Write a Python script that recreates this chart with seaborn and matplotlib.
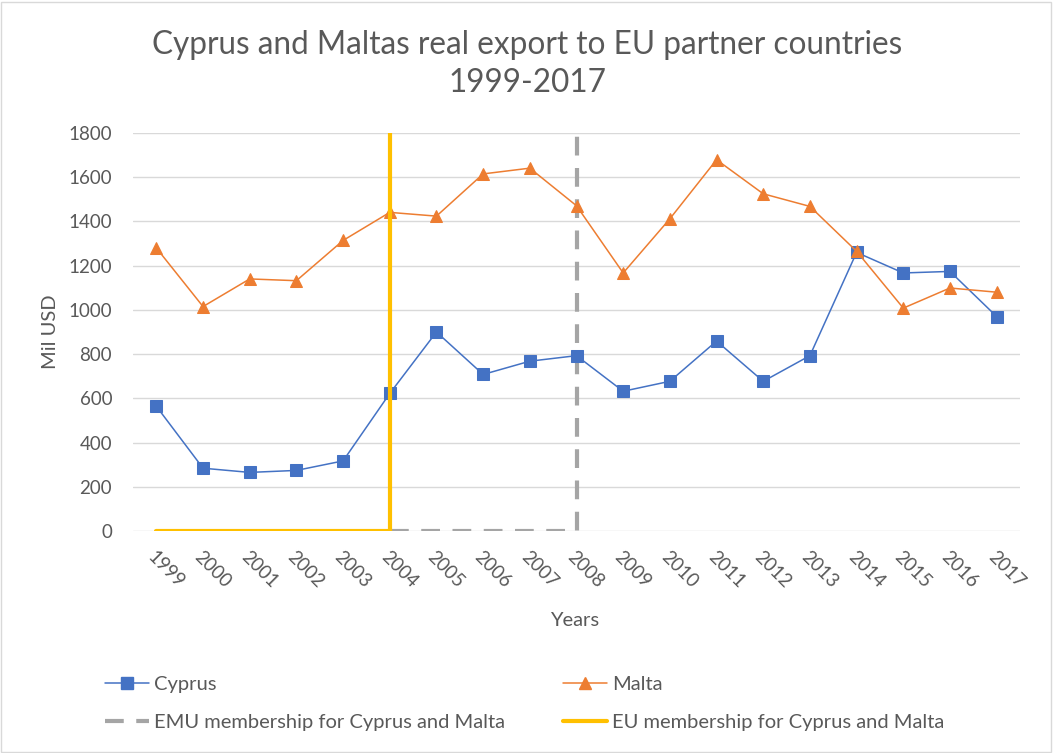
import matplotlib
matplotlib.use("Agg")
import matplotlib.pyplot as plt
import seaborn as sns
import pandas as pd
from matplotlib.lines import Line2D
from matplotlib.patches import Rectangle

years = list(range(1999, 2018))
cyprus = [564, 284, 265, 274, 317, 622, 900, 708, 768, 793, 632, 677, 859, 677, 793, 1260, 1167, 1174, 970]
malta = [1280, 1015, 1140, 1132, 1314, 1441, 1424, 1615, 1641, 1471, 1167, 1412, 1679, 1525, 1468, 1265, 1008, 1099, 1080]
eu_x = [1999, 2000, 2001, 2002, 2003, 2004, 2004]
eu_y = [0, 0, 0, 0, 0, 0, 1800]
emu_x = [2004, 2005, 2006, 2007, 2008, 2008]
emu_y = [0, 0, 0, 0, 0, 1800]
title = "Cyprus and Maltas real export to EU partner countries\n1999-2017"
yticks = [0, 200, 400, 600, 800, 1000, 1200, 1400, 1600, 1800]

sns.set_theme(style="white")
plt.rcParams['font.family'] = ['Lato', 'DejaVu Sans']

txt = "#595959"
c_cy = "#4472C4"
c_mt = "#ED7D31"
c_eu = "#FFC000"
c_emu = "#A5A5A5"

fig = plt.figure(figsize=(10.53, 7.53), dpi=100)
L, R, T, B = 133, 1020, 133, 531
ax = fig.add_axes([L/1053, 1-B/753, (R-L)/1053, (B-T)/753])

df = pd.DataFrame({"Year": years, "Cyprus": cyprus, "Malta": malta})

sns.lineplot(x=emu_x, y=emu_y, ax=ax, color=c_emu, linewidth=3, zorder=2, estimator=None, sort=False)
ax.lines[-1].set_linestyle((0, (4.5, 3)))
sns.lineplot(data=df, x="Year", y="Cyprus", ax=ax, color=c_cy, linewidth=1.1, marker="s",
             markersize=8.5, markeredgecolor=c_cy, zorder=3)
sns.lineplot(data=df, x="Year", y="Malta", ax=ax, color=c_mt, linewidth=1.1, marker="^",
             markersize=9, markeredgecolor=c_mt, zorder=3)
sns.lineplot(x=eu_x, y=eu_y, ax=ax, color=c_eu, linewidth=3, zorder=4, estimator=None, sort=False)

ax.set_xlim(1998.5, 2017.5)
ax.set_ylim(0, 1800)
ax.set_yticks(yticks)
ax.set_xticks(years)
ax.set_xticklabels([str(y) for y in years], rotation=-45, ha="left", va="top",
                   rotation_mode="anchor", color=txt, fontsize=13.5)
ax.set_yticklabels([str(v) for v in yticks], color=txt, fontsize=13.5)
ax.tick_params(axis="x", pad=12, length=0)
ax.tick_params(axis="y", pad=15, length=0)
ax.grid(axis="y", color="#D9D9D9", linewidth=1)
ax.set_axisbelow(True)
for s in ax.spines.values():
    s.set_visible(False)

ax.set_xlabel("Years", color=txt, fontsize=14.5, va="center")
ax.xaxis.set_label_coords((575-L)/(R-L), (B-620)/(B-T))
ax.set_ylabel("Mil USD", color=txt, fontsize=14.5, va="center")
ax.yaxis.set_label_coords((50-L)/(R-L), (B-332)/(B-T))

fig.text(527/1053, 1-64/753, title, ha="center", va="center", color=txt, fontsize=22.7, linespacing=1.35)

handles = [
    Line2D([], [], color=c_cy, linewidth=1.1, marker="s", markersize=8.5),
    Line2D([], [], color=c_emu, linewidth=3, linestyle=(0, (4.5, 3))),
    Line2D([], [], color=c_mt, linewidth=1.1, marker="^", markersize=9),
    Line2D([], [], color=c_eu, linewidth=3),
]
labels = ["Cyprus", "EMU membership for Cyprus and Malta", "Malta", "EU membership for Cyprus and Malta"]
leg = fig.legend(handles, labels, ncol=2, loc="upper left", bbox_to_anchor=(95/1053, 1-666/753),
                 frameon=False, fontsize=14.5, labelcolor=txt, handlelength=2.2, borderpad=0,
                 columnspacing=2.85, labelspacing=1.05, handletextpad=0.25)

fig.patches.append(Rectangle((0.001, 0.001), 0.997, 0.997, transform=fig.transFigure,
                             fill=False, edgecolor="#D9D9D9", linewidth=1))

fig.savefig("out.png", dpi=100)
